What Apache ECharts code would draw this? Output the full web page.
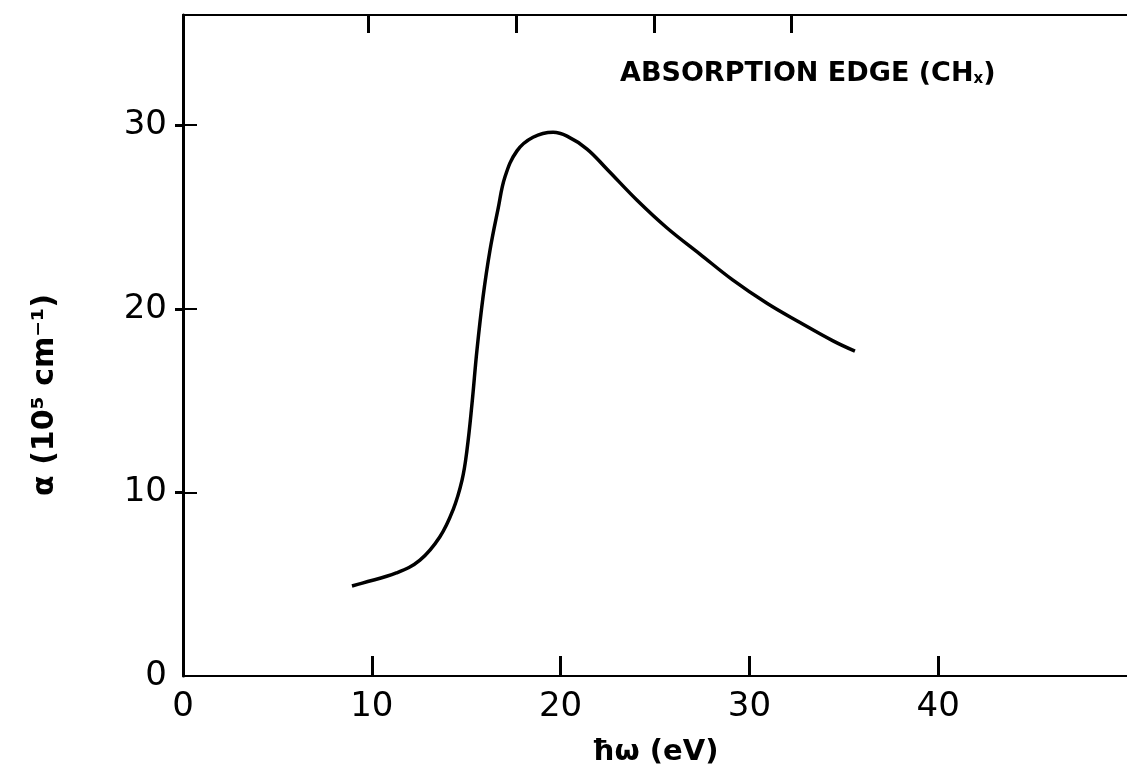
<!DOCTYPE html>
<html>
<head>
<meta charset="utf-8">
<script src="https://cdn.jsdelivr.net/npm/echarts@6/dist/echarts.min.js"></script>
<style>html,body{margin:0;padding:0;background:#fff;overflow:hidden;}#c{width:1127px;height:772px;}</style>
</head>
<body>
<div id="c"></div>
<script>
// Photon energy (eV) and absorption coefficient (10^5 cm^-1)
const energy = [8.95, 9.5, 11.3, 12.55, 13.6, 14.3, 14.78, 15.04, 15.31, 15.57, 15.89, 16.26, 16.68, 17.06, 17.69, 18.54, 19.6, 20.34, 21.4, 22.46, 24.05, 25.64, 27.38, 29.13, 30.93, 32.68, 34.43, 35.59];
const alpha  = [4.9, 5.06, 5.61, 6.31, 7.57, 9.04, 10.67, 12.3, 14.86, 17.75, 20.63, 23.19, 25.4, 27.2, 28.6, 29.34, 29.61, 29.4, 28.7, 27.6, 25.91, 24.4, 22.98, 21.56, 20.3, 19.25, 18.25, 17.69];
const xTickValues = [10, 20, 30, 40];
const xLabelValues = [0, 10, 20, 30, 40];
const yTickValues = [10, 20, 30];
const yLabelValues = [0, 10, 20, 30];
const topTickValues = [9.8, 17.64, 24.95, 32.2];
const titleText = 'ABSORPTION EDGE (CH{sub|x})';
const xName = 'ħω (eV)';
const yName = 'α (10⁵ cm⁻¹)';

const chart = echarts.init(document.getElementById('c'), null, {renderer: 'canvas', width: 1127, height: 772});
const font = 'DejaVu Sans';
const points = energy.map((e, i) => [e, alpha[i]]);

chart.setOption({
  backgroundColor: '#ffffff',
  animation: false,
  grid: {left: 183, top: 15, width: 944, height: 661, containLabel: false},
  xAxis: [{
    type: 'value', position: 'bottom', min: 0, max: 50, interval: 10,
    name: xName, nameLocation: 'middle', nameGap: 62,
    nameTextStyle: {fontFamily: font, fontSize: 29, fontWeight: 'bold', color: '#000'},
    axisLine: {show: true, onZero: false, lineStyle: {color: '#000', width: 2}},
    axisTick: {show: true, inside: true, length: 20, customValues: xTickValues, lineStyle: {color: '#000', width: 3}},
    axisLabel: {show: true, customValues: xLabelValues, margin: 14, fontFamily: font, fontSize: 34, color: '#000'},
    splitLine: {show: false}
  }, {
    type: 'value', position: 'top', min: 0, max: 50,
    axisLine: {show: true, onZero: false, lineStyle: {color: '#000', width: 2}},
    axisTick: {show: true, inside: true, length: 18, customValues: topTickValues, lineStyle: {color: '#000', width: 3}},
    axisLabel: {show: false},
    splitLine: {show: false}
  }],
  yAxis: [{
    type: 'value', position: 'left', min: 0, max: 36, interval: 10,
    axisLine: {show: true, onZero: false, lineStyle: {color: '#000', width: 3}},
    axisTick: {show: true, inside: true, length: 14, customValues: yTickValues, lineStyle: {color: '#000', width: 2}},
    axisLabel: {show: true, customValues: yLabelValues, margin: 16, fontFamily: font, fontSize: 34, color: '#000'},
    splitLine: {show: false}
  }, {
    type: 'value', position: 'right', min: 0, max: 36, interval: 10,
    axisLine: {show: false},
    axisTick: {show: true, inside: true, length: 8, customValues: yTickValues, lineStyle: {color: '#000', width: 3}},
    axisLabel: {show: false},
    splitLine: {show: false}
  }],
  graphic: [{
    type: 'text', left: 620, top: 60,
    style: {
      text: titleText, fontFamily: font, fontSize: 27, fontWeight: 'bold', fill: '#000',
      rich: {sub: {fontFamily: font, fontSize: 15, fontWeight: 'bold', fill: '#000', padding: [12, 0, 0, 0]}}
    }
  }, {
    type: 'text', x: 45, y: 395, rotation: Math.PI / 2,
    style: {text: yName, fontFamily: font, fontSize: 30, fontWeight: 'bold', fill: '#000', align: 'center', verticalAlign: 'middle'}
  }],
  series: [{
    type: 'line', xAxisIndex: 0, yAxisIndex: 0, data: points, smooth: 0.4,
    showSymbol: false, lineStyle: {color: '#000', width: 3.5}
  }]
});
</script>
</body>
</html>
